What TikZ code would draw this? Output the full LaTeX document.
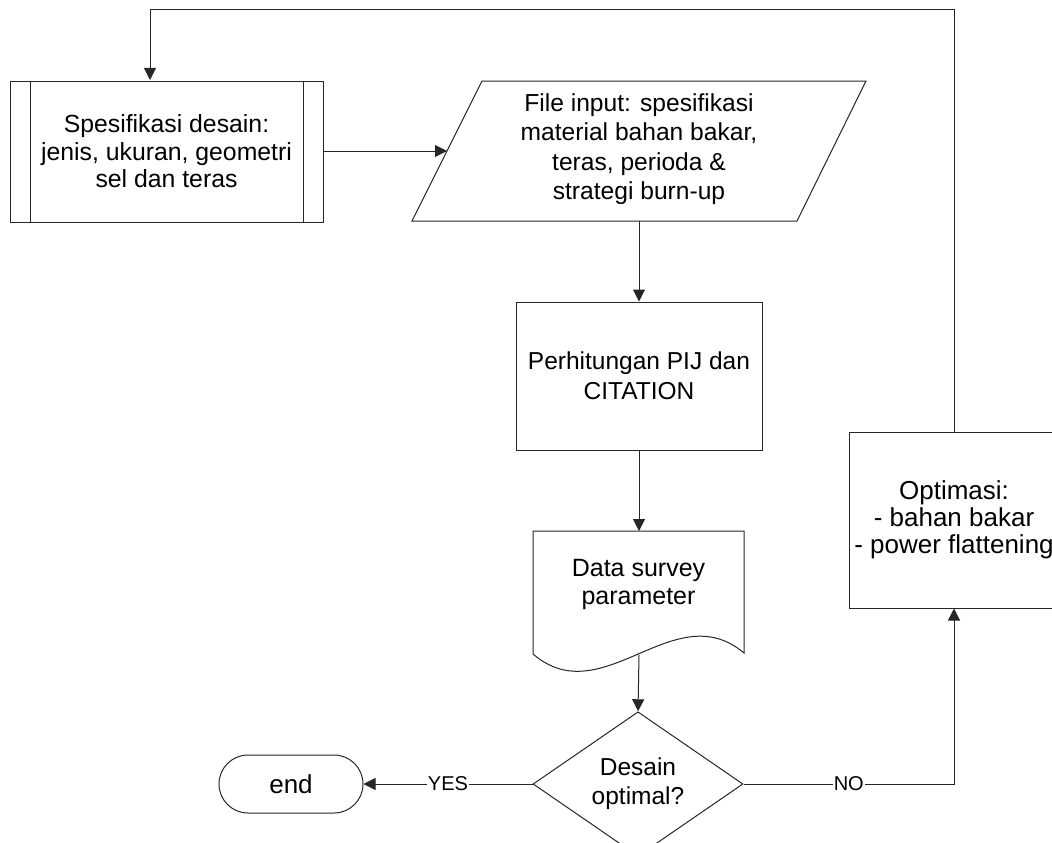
\documentclass[tikz,border=0pt]{standalone}
\usepackage{fontspec}
\setmainfont{Liberation Sans}
\usetikzlibrary{arrows.meta,shapes.geometric}
\begin{document}
\begin{tikzpicture}[x=1pt,y=-1pt,
  line/.style={draw=black!85,line width=1pt},
  arr/.style={line,-{Triangle[length=12pt,width=12pt]}},
  txt/.style={align=center,font=\fontsize{26}{28}\selectfont,inner sep=0pt},
  boxn/.style={txt,line,rectangle},
  lbl/.style={fill=white,inner sep=1pt,font=\fontsize{20}{22}\selectfont}]
\useasboundingbox (0,0) rectangle (1052,843);
% predefined process
\node[boxn,minimum width=313pt,minimum height=141pt,font=\fontsize{24.8}{27.5}\selectfont] (pd) at (166.5,151.5)
  {Spesifikasi desain:\\jenis, ukuran, geometri\\sel dan teras};
\draw[line] ([xshift=21pt]pd.north west) -- ([xshift=21pt]pd.south west);
\draw[line] ([xshift=-20pt]pd.north east) -- ([xshift=-20pt]pd.south east);
% parallelogram (input)
\node[txt,font=\fontsize{24.6}{29.3}\selectfont] (fi) at (639,149)
  {File input: spesifikasi\\material bahan bakar,\\teras, perioda \&\\strategi burn-up};
\coordinate (fiA) at (482,81);
\coordinate (fiB) at (866,81);
\coordinate (fiC) at (797,221);
\coordinate (fiD) at (412,221);
\draw[line] (fiA) -- (fiB) -- (fiC) -- (fiD) -- cycle;
\coordinate (fiW) at (447,151);
\coordinate (fiS) at (639,221);
% process
\node[boxn,minimum width=246pt,minimum height=148pt,font=\fontsize{24.5}{30}\selectfont] (pij) at (639,376)
  {Perhitungan PIJ dan\\CITATION};
% document
\node[txt,font=\fontsize{25}{28}\selectfont] (ds) at (638.5,584) {Data survey\\parameter};
\coordinate (dsN) at (639,531);
\coordinate (dsS) at (639,655);
\draw[line] (533,654) -- (533,531) -- (744,531) -- (744,653)
  .. controls (674,594) and (603,714) .. (533,654);
% decision
\node[txt,line,diamond,minimum width=210pt,minimum height=122pt,font=\fontsize{24.5}{29}\selectfont] (dec) at (638,784)
  {Desain\\optimal?};
% terminal
\node[boxn,rounded corners=29pt,minimum width=144pt,minimum height=58pt] (end) at (291,784) {end};
% optimisation
\node[boxn,minimum width=210pt,minimum height=176pt,font=\fontsize{26}{27}\selectfont] (opt) at (954,520)
  {Optimasi:\\- bahan bakar\\- power flattening};
% connectors
\coordinate (loopR) at (954,10);
\coordinate (pdIn) at (150,80);
\draw[arr] (opt.north) -- (loopR) -| (pdIn);
\draw[arr] (pd.east |- fiW) -- (fiW);
\draw[arr] (fiS) -- (pij.north);
\draw[arr] (pij.south) -- (dsN);
\draw[arr] (dsS) -- (dec.north);
\draw[arr] (dec.west) -- node[lbl]{YES} (end.east);
\draw[arr] (dec.east) -| node[lbl,pos=0.25]{NO} (opt.south);
\end{tikzpicture}
\end{document}
